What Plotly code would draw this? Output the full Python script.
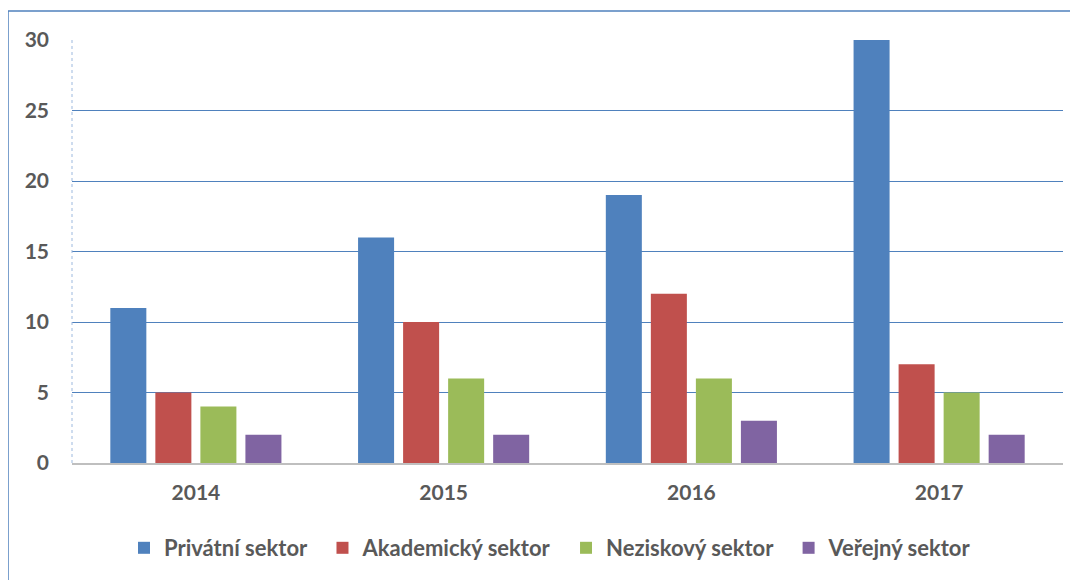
import plotly.graph_objects as go

years = ["2014", "2015", "2016", "2017"]
series_names = ["Privátní sektor", "Akademický sektor", "Neziskový sektor", "Veřejný sektor"]
privatni = [11, 16, 19, 30]
akademicky = [5, 10, 12, 7]
neziskovy = [4, 6, 6, 5]
verejny = [2, 2, 3, 2]
colors = ["#4F81BD", "#C0504D", "#9BBB59", "#8064A2"]

values = [privatni, akademicky, neziskovy, verejny]

fig = go.Figure()
for name, vals, col in zip(series_names, values, colors):
    fig.add_trace(go.Bar(x=years, y=vals, name=name + "\u00a0\u00a0",
                         marker=dict(color=col, line=dict(width=0))))

font_fam = "Lato, 'Open Sans', sans-serif"
OFF = 8  # page body margin
W, H = 1078 - OFF, 580 - OFF
L, R, T, B = 72 - OFF, 15, 40 - OFF, 116
pw = W - L - R
ph = H - T - B

def px_x(x):
    return (x - OFF - L) / pw

def px_y(y):
    return (H - B - (y - OFF)) / ph

fig.update_layout(
    width=W, height=H,
    margin=dict(l=L, r=R, t=T, b=B),
    plot_bgcolor="white", paper_bgcolor="white",
    barmode="group", bargap=0.273, bargroupgap=0.2,
    font=dict(family=font_fam, color="#595959", size=21),
    xaxis=dict(showgrid=False, showline=True, linecolor="#BFBFBF", linewidth=1.5,
               tickfont=dict(size=21, family=font_fam, color="#595959", weight="bold"),
               ticks="", ticklabelstandoff=10),
    yaxis=dict(range=[0, 30], dtick=5, showgrid=True, gridcolor="#4F81BD", gridwidth=1,
               zeroline=False, showline=False,
               tickfont=dict(size=21, family=font_fam, color="#595959", weight="bold"),
               ticks="", ticklabelstandoff=22),
    legend=dict(orientation="h", x=px_x(555), xanchor="center", y=px_y(548), yanchor="middle",
                font=dict(size=22, family=font_fam, color="#595959", weight="bold"),
                itemwidth=30, tracegroupgap=0),
    shapes=[
        dict(type="line", xref="paper", yref="paper", x0=0, x1=0, y0=0, y1=1,
             line=dict(color="#9DB9DE", width=1, dash="dot")),
        dict(type="line", xref="paper", yref="paper", x0=px_x(8), x1=px_x(1100), y0=px_y(11), y1=px_y(11),
             line=dict(color="#4F81BD", width=1.5)),
        dict(type="line", xref="paper", yref="paper", x0=px_x(8), x1=px_x(8), y0=px_y(11), y1=px_y(600),
             line=dict(color="#4F81BD", width=1.5)),
    ],
)

fig.write_html("out.html")
